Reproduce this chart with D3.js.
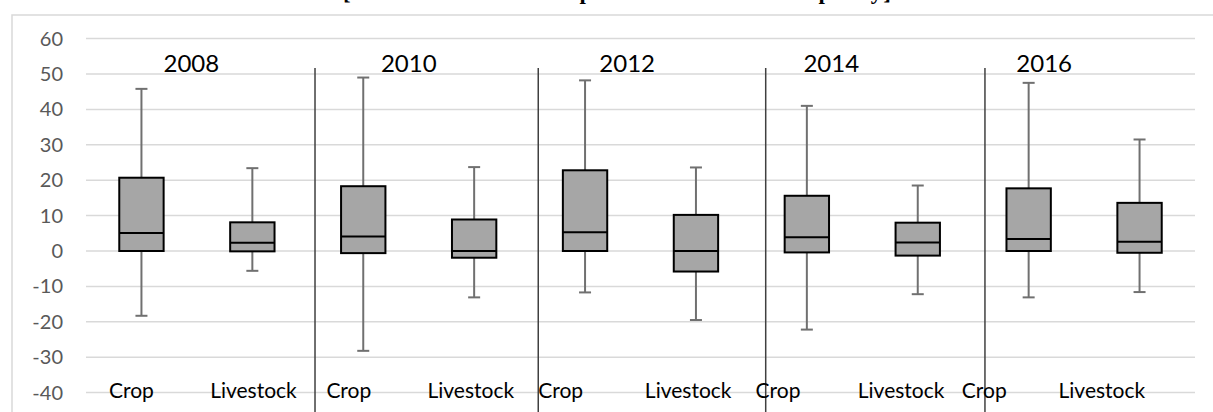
<!DOCTYPE html>
<html>
<head>
<meta charset="utf-8">
<script src="https://cdn.jsdelivr.net/npm/d3@7/dist/d3.min.js"></script>
<style>
  html, body { margin: 0; padding: 0; background: #fff; overflow: hidden; }
  svg { display: block; }
</style>
</head>
<body>
<script>
// ---- data ----
const years = ["2008", "2010", "2012", "2014", "2016"];
const sectors = ["Crop", "Livestock"];
const categories = years.flatMap(y => sectors.map(s => y + " " + s));

// five-number summaries per category, same order as `categories`
const whiskerLow  = [-18.3, -5.6, -28.2, -13.1, -11.7, -19.5, -22.2, -12.2, -13.1, -11.6];
const quartile1   = [  0.0, -0.1,  -0.6,  -1.9,   0.0,  -5.8,  -0.4,  -1.3,   0.0,  -0.5];
const medians     = [  5.1,  2.3,   4.1,   0.0,   5.3,   0.0,   3.9,   2.4,   3.4,   2.6];
const quartile3   = [ 20.7,  8.1,  18.3,   8.9,  22.8,  10.2,  15.6,   8.0,  17.7,  13.6];
const whiskerHigh = [ 45.8, 23.4,  49.0,  23.7,  48.2,  23.6,  41.0,  18.5,  47.5,  31.5];

const yTicks = [-40, -30, -20, -10, 0, 10, 20, 30, 40, 50, 60];
const titleText = "[Annual farm income per hectare under the policy]";

// label and divider placement, in category units along the x axis
const sectorLabelPos = [0.41, 1.51, 2.37, 3.47, 4.28, 5.43, 6.24, 7.35, 8.10, 9.16];
const yearLabelPos = [0.95, 2.91, 4.88, 6.72, 8.64];
const dividerPos = [2.065, 4.078, 6.129, 8.106];

// ---- layout ----
const W = 1213, H = 412;
const plot = { left: 86, right: 1195, top: 38.6, bottom: 392.6 };

const svg = d3.select("body").append("svg")
  .attr("width", W).attr("height", H);

const x = d3.scaleBand().domain(categories).range([plot.left, plot.right]).padding(0);
const xu = d3.scaleLinear().domain([0, categories.length]).range([plot.left, plot.right]);
const y = d3.scaleLinear().domain([-40, 60]).range([plot.bottom, plot.top]);

// chart frame
svg.append("rect")
  .attr("x", 12).attr("y", 15)
  .attr("width", W + 20).attr("height", H + 20)
  .attr("fill", "none").attr("stroke", "#d9d9d9").attr("stroke-width", 1.5);

// title, sitting above the frame so only its lower part shows
svg.append("text")
  .attr("x", 343).attr("y", -1)
  .attr("textLength", 548).attr("lengthAdjust", "spacing")
  .attr("font-family", "'Liberation Serif', 'DejaVu Serif', serif")
  .attr("font-weight", "bold").attr("font-size", 23)
  .attr("fill", "#000")
  .text(titleText);

// horizontal gridlines
svg.append("g").selectAll("line").data(yTicks).join("line")
  .attr("x1", plot.left).attr("x2", plot.right)
  .attr("y1", d => y(d)).attr("y2", d => y(d))
  .attr("stroke", "#d9d9d9").attr("stroke-width", 1.5);

// y axis labels
const yAxis = svg.append("g")
  .attr("transform", `translate(${plot.left},0)`)
  .call(d3.axisLeft(y).tickValues(yTicks).tickSize(0).tickPadding(23).tickFormat(d => String(d)));
yAxis.select(".domain").remove();
yAxis.selectAll("text")
  .attr("font-family", "Lato, 'Open Sans', sans-serif")
  .attr("font-size", 20).attr("fill", "#595959");

// year dividers
svg.append("g").selectAll("line").data(dividerPos).join("line")
  .attr("x1", d => xu(d)).attr("x2", d => xu(d))
  .attr("y1", 68).attr("y2", H + 5)
  .attr("stroke", "#404040").attr("stroke-width", 1.5);

// boxes
const bw = x.bandwidth() * 0.4;
const capW = 12;
const boxes = svg.append("g").selectAll("g").data(categories).join("g");

boxes.append("line")
  .attr("x1", d => x(d) + x.bandwidth() / 2).attr("x2", d => x(d) + x.bandwidth() / 2)
  .attr("y1", (d, i) => y(whiskerHigh[i])).attr("y2", (d, i) => y(quartile3[i]))
  .attr("stroke", "#707070").attr("stroke-width", 2);
boxes.append("line")
  .attr("x1", d => x(d) + x.bandwidth() / 2).attr("x2", d => x(d) + x.bandwidth() / 2)
  .attr("y1", (d, i) => y(quartile1[i])).attr("y2", (d, i) => y(whiskerLow[i]))
  .attr("stroke", "#707070").attr("stroke-width", 2);
boxes.append("line")
  .attr("x1", d => x(d) + x.bandwidth() / 2 - capW / 2).attr("x2", d => x(d) + x.bandwidth() / 2 + capW / 2)
  .attr("y1", (d, i) => y(whiskerHigh[i])).attr("y2", (d, i) => y(whiskerHigh[i]))
  .attr("stroke", "#707070").attr("stroke-width", 2);
boxes.append("line")
  .attr("x1", d => x(d) + x.bandwidth() / 2 - capW / 2).attr("x2", d => x(d) + x.bandwidth() / 2 + capW / 2)
  .attr("y1", (d, i) => y(whiskerLow[i])).attr("y2", (d, i) => y(whiskerLow[i]))
  .attr("stroke", "#707070").attr("stroke-width", 2);

boxes.append("rect")
  .attr("x", d => x(d) + x.bandwidth() / 2 - bw / 2)
  .attr("width", bw)
  .attr("y", (d, i) => y(quartile3[i]))
  .attr("height", (d, i) => y(quartile1[i]) - y(quartile3[i]))
  .attr("fill", "#a6a6a6").attr("stroke", "#000").attr("stroke-width", 2);
boxes.append("line")
  .attr("x1", d => x(d) + x.bandwidth() / 2 - bw / 2).attr("x2", d => x(d) + x.bandwidth() / 2 + bw / 2)
  .attr("y1", (d, i) => y(medians[i])).attr("y2", (d, i) => y(medians[i]))
  .attr("stroke", "#000").attr("stroke-width", 2);

// year labels
svg.append("g").selectAll("text").data(years).join("text")
  .attr("x", (d, i) => xu(yearLabelPos[i])).attr("y", 72)
  .attr("text-anchor", "middle")
  .attr("font-family", "Lato, 'Open Sans', sans-serif")
  .attr("font-size", 24).attr("fill", "#000")
  .text(d => d);

// sector labels along the bottom
svg.append("g").selectAll("text").data(categories).join("text")
  .attr("x", (d, i) => xu(sectorLabelPos[i])).attr("y", 398)
  .attr("text-anchor", "middle")
  .attr("font-family", "Lato, 'Open Sans', sans-serif")
  .attr("font-size", 21).attr("fill", "#000")
  .text((d, i) => sectors[i % 2]);
</script>
</body>
</html>
